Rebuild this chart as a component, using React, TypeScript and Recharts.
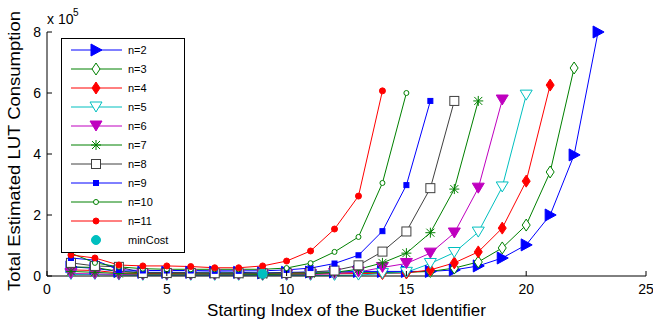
import React from 'react';
import { LineChart, Line, XAxis, YAxis, Legend } from 'recharts';

// values are in units of 10^5 LUTs, as on the y axis
const bucketIndex = [1, 2, 3, 4, 5, 6, 7, 8, 9, 10, 11, 12, 13, 14, 15, 16, 17, 18, 19, 20, 21, 22, 23];

const n2 = [0.30, 0.25, 0.15, 0.12, 0.12, 0.12, 0.13, 0.12, 0.10, 0.12, 0.13, 0.13, 0.15, 0.15, 0.15, 0.15, 0.20, 0.33, 0.59, 1.02, 2.00, 3.97, 8.00];
const n3 = [0.30, 0.28, 0.15, 0.10, 0.10, 0.10, 0.10, 0.10, 0.09, 0.10, 0.10, 0.10, 0.11, 0.11, 0.12, 0.15, 0.26, 0.46, 0.92, 1.67, 3.41, 6.82];
const n4 = [0.20, 0.18, 0.10, 0.08, 0.08, 0.07, 0.07, 0.07, 0.06, 0.07, 0.07, 0.07, 0.08, 0.08, 0.10, 0.20, 0.43, 0.79, 1.57, 3.11, 6.26];
const n5 = [0.05, 0.05, 0.03, 0.02, 0.02, 0.02, 0.02, 0.02, 0.02, 0.02, 0.02, 0.02, 0.03, 0.08, 0.12, 0.41, 0.77, 1.44, 2.92, 5.93];
const n6 = [0.08, 0.07, 0.05, 0.04, 0.04, 0.04, 0.04, 0.04, 0.04, 0.04, 0.05, 0.08, 0.13, 0.28, 0.41, 0.75, 1.41, 2.88, 5.77];
const n7 = [0.15, 0.12, 0.08, 0.06, 0.06, 0.06, 0.06, 0.06, 0.05, 0.06, 0.07, 0.12, 0.22, 0.43, 0.75, 1.42, 2.85, 5.74];
const n8 = [0.43, 0.33, 0.30, 0.10, 0.10, 0.10, 0.09, 0.09, 0.09, 0.10, 0.13, 0.18, 0.35, 0.80, 1.46, 2.88, 5.74];
const n9 = [0.59, 0.52, 0.20, 0.18, 0.18, 0.18, 0.17, 0.17, 0.17, 0.20, 0.26, 0.41, 0.68, 1.47, 2.98, 5.74];
const n10 = [0.75, 0.43, 0.30, 0.24, 0.22, 0.22, 0.22, 0.22, 0.22, 0.26, 0.42, 0.79, 1.28, 3.05, 6.00];
const n11 = [0.69, 0.59, 0.36, 0.33, 0.33, 0.31, 0.27, 0.27, 0.33, 0.49, 0.82, 1.54, 2.62, 6.07];

const minCostIndex = [9];
const minCostValue = [0.07];

const xTicks = [0, 5, 10, 15, 20, 25];
const yTicks = [0, 2, 4, 6, 8];

const SERIES = [
  { key: 'n2', name: 'n=2', values: n2, color: '#0000ff', shape: 'triRight' },
  { key: 'n3', name: 'n=3', values: n3, color: '#008000', shape: 'diamondOpen' },
  { key: 'n4', name: 'n=4', values: n4, color: '#ff0000', shape: 'diamond' },
  { key: 'n5', name: 'n=5', values: n5, color: '#00bfbf', shape: 'triDownOpen' },
  { key: 'n6', name: 'n=6', values: n6, color: '#bf00bf', shape: 'triDown' },
  { key: 'n7', name: 'n=7', values: n7, color: '#008000', shape: 'star' },
  { key: 'n8', name: 'n=8', values: n8, color: '#404040', shape: 'squareOpen' },
  { key: 'n9', name: 'n=9', values: n9, color: '#0000ff', shape: 'square' },
  { key: 'n10', name: 'n=10', values: n10, color: '#008000', shape: 'circleOpen' },
  { key: 'n11', name: 'n=11', values: n11, color: '#ff0000', shape: 'circle' },
];

const MIN_COST = { key: 'minCost', name: 'minCost', color: '#00bfbf', shape: 'dotBig' };

const FONT = "'Liberation Sans', Arial, sans-serif";

const chartData = bucketIndex.map((x, i) => {
  const row: any = { x };
  SERIES.forEach((s) => {
    if (i < s.values.length) row[s.key] = s.values[i];
  });
  const m = minCostIndex.indexOf(x);
  if (m >= 0) row.minCost = minCostValue[m];
  return row;
});

function Marker({ shape, color, cx, cy }: { shape: string; color: string; cx: number; cy: number }) {
  switch (shape) {
    case 'triRight':
      return <polygon points={`${cx - 5},${cy - 6} ${cx + 6},${cy} ${cx - 5},${cy + 6}`} fill={color} stroke={color} />;
    case 'diamondOpen':
      return <polygon points={`${cx},${cy - 6} ${cx + 4},${cy} ${cx},${cy + 6} ${cx - 4},${cy}`} fill="#fff" stroke={color} />;
    case 'diamond':
      return <polygon points={`${cx},${cy - 6} ${cx + 4},${cy} ${cx},${cy + 6} ${cx - 4},${cy}`} fill={color} stroke={color} />;
    case 'triDownOpen':
      return <polygon points={`${cx - 6},${cy - 5} ${cx + 6},${cy - 5} ${cx},${cy + 5}`} fill="#fff" stroke={color} />;
    case 'triDown':
      return <polygon points={`${cx - 6},${cy - 5} ${cx + 6},${cy - 5} ${cx},${cy + 5}`} fill={color} stroke={color} />;
    case 'star':
      return (
        <g stroke={color} strokeWidth={1}>
          <line x1={cx - 5} y1={cy} x2={cx + 5} y2={cy} />
          <line x1={cx} y1={cy - 5} x2={cx} y2={cy + 5} />
          <line x1={cx - 4} y1={cy - 4} x2={cx + 4} y2={cy + 4} />
          <line x1={cx - 4} y1={cy + 4} x2={cx + 4} y2={cy - 4} />
        </g>
      );
    case 'squareOpen':
      return <rect x={cx - 4.5} y={cy - 4.5} width={9} height={9} fill="#fff" stroke={color} />;
    case 'square':
      return <rect x={cx - 2.5} y={cy - 2.5} width={5} height={5} fill={color} stroke={color} />;
    case 'circleOpen':
      return <circle cx={cx} cy={cy} r={2.5} fill="#fff" stroke={color} />;
    case 'circle':
      return <circle cx={cx} cy={cy} r={3} fill={color} stroke={color} />;
    case 'dotBig':
      return <circle cx={cx} cy={cy} r={4.5} fill={color} stroke={color} />;
    default:
      return null;
  }
}

const makeDot = (s: { key: string; shape: string; color: string }) => (p: any) => {
  const k = `${s.key}-${p.index}`;
  if (p.cx == null || p.cy == null || p.value == null) return <g key={k} />;
  return (
    <g key={k}>
      <Marker shape={s.shape} color={s.color} cx={p.cx} cy={p.cy} />
    </g>
  );
};

// MATLAB style: ticks point into the plot box
const BottomTick = (props: any) => {
  const { x, y, payload } = props;
  return (
    <g>
      <line x1={x} y1={y} x2={x} y2={y - 5} stroke="#000" />
      <text x={x} y={y + 18} textAnchor="middle" fontSize={14} fontFamily={FONT} fill="#000">
        {payload.value}
      </text>
    </g>
  );
};

const LeftTick = (props: any) => {
  const { x, y, payload } = props;
  return (
    <g>
      <line x1={x} y1={y} x2={x + 5} y2={y} stroke="#000" />
      <text x={x - 6} y={y + 5} textAnchor="end" fontSize={14} fontFamily={FONT} fill="#000">
        {payload.value}
      </text>
    </g>
  );
};

const TopTick = (props: any) => {
  const { x, y } = props;
  return <line x1={x} y1={y} x2={x} y2={y + 5} stroke="#000" />;
};

const RightTick = (props: any) => {
  const { x, y } = props;
  return <line x1={x} y1={y} x2={x - 5} y2={y} stroke="#000" />;
};

const XTitle = (props: any) => {
  const { viewBox } = props;
  return (
    <text
      x={viewBox.x + viewBox.width / 2}
      y={viewBox.y + 40}
      textAnchor="middle"
      fontSize={17}
      fontFamily={FONT}
      fill="#000"
    >
      Starting Index of the Bucket Identifier
    </text>
  );
};

const YTitle = (props: any) => {
  const { viewBox } = props;
  const cy = 151;
  return (
    <g>
      <text
        x={20}
        y={cy}
        transform={`rotate(-90 20 ${cy})`}
        textAnchor="middle"
        fontSize={16}
        textLength={280}
        lengthAdjust="spacingAndGlyphs"
        fontFamily={FONT}
        fill="#000"
      >
        Total Estimated LUT Consumption
      </text>
      <text x={viewBox.x + viewBox.width} y={viewBox.y - 8} fontSize={14} fontFamily={FONT} fill="#000">
        x 10
      </text>
      <text x={viewBox.x + viewBox.width + 26} y={viewBox.y - 16} fontSize={10} fontFamily={FONT} fill="#000">
        5
      </text>
    </g>
  );
};

const LegendBox = () => (
  <svg width={125} height={216} style={{ display: 'block' }}>
    <rect x={0.5} y={0.5} width={123} height={214} fill="#fff" stroke="#000" />
    {[...SERIES, MIN_COST].map((s, i) => {
      const y = 12 + i * 19;
      return (
        <g key={s.key}>
          {s.key !== 'minCost' && <line x1={10} x2={61} y1={y} y2={y} stroke={s.color} />}
          <Marker shape={s.shape} color={s.color} cx={35} cy={y} />
          <text x={67} y={y + 4} fontSize={11} fontFamily={FONT} fill="#000">
            {s.name}
          </text>
        </g>
      );
    })}
  </svg>
);

export default function App() {
  return (
    <div style={{ position: 'absolute', left: 0, top: 0, width: 653, height: 320, background: '#fff' }}>
      <LineChart width={653} height={320} data={chartData} margin={{ top: 32, right: 7, bottom: 0, left: 0 }}>
        <XAxis
          dataKey="x"
          type="number"
          domain={[0, 25]}
          ticks={xTicks}
          interval={0}
          height={44}
          tickSize={0}
          tickMargin={0}
          tickLine={false}
          axisLine={{ stroke: '#000' }}
          tick={<BottomTick />}
          label={<XTitle />}
        />
        <XAxis
          xAxisId="top"
          orientation="top"
          dataKey="x"
          type="number"
          domain={[0, 25]}
          ticks={[5, 10, 15, 20]}
          height={0}
          tickSize={0}
          tickMargin={0}
          tickLine={false}
          axisLine={{ stroke: '#000' }}
          tick={<TopTick />}
        />
        <YAxis
          type="number"
          domain={[0, 8]}
          ticks={yTicks}
          interval={0}
          width={47}
          tickSize={0}
          tickMargin={0}
          tickLine={false}
          axisLine={{ stroke: '#000' }}
          tick={<LeftTick />}
          label={<YTitle />}
        />
        <YAxis
          yAxisId="right"
          orientation="right"
          type="number"
          domain={[0, 8]}
          ticks={[2, 4, 6]}
          width={0}
          tickSize={0}
          tickMargin={0}
          tickLine={false}
          axisLine={{ stroke: '#000' }}
          tick={<RightTick />}
        />
        <Legend
          layout="vertical"
          align="center"
          verticalAlign="middle"
          wrapperStyle={{ left: 61, top: 38, width: 125, height: 216 }}
          content={() => <LegendBox />}
        />
        {SERIES.map((s) => (
          <Line
            key={s.key}
            dataKey={s.key}
            name={s.name}
            type="linear"
            stroke={s.color}
            strokeWidth={1}
            dot={makeDot(s)}
            activeDot={false}
            isAnimationActive={false}
          />
        ))}
        <Line
          dataKey="minCost"
          name="minCost"
          type="linear"
          stroke="none"
          dot={makeDot(MIN_COST)}
          activeDot={false}
          isAnimationActive={false}
        />
      </LineChart>
    </div>
  );
}
